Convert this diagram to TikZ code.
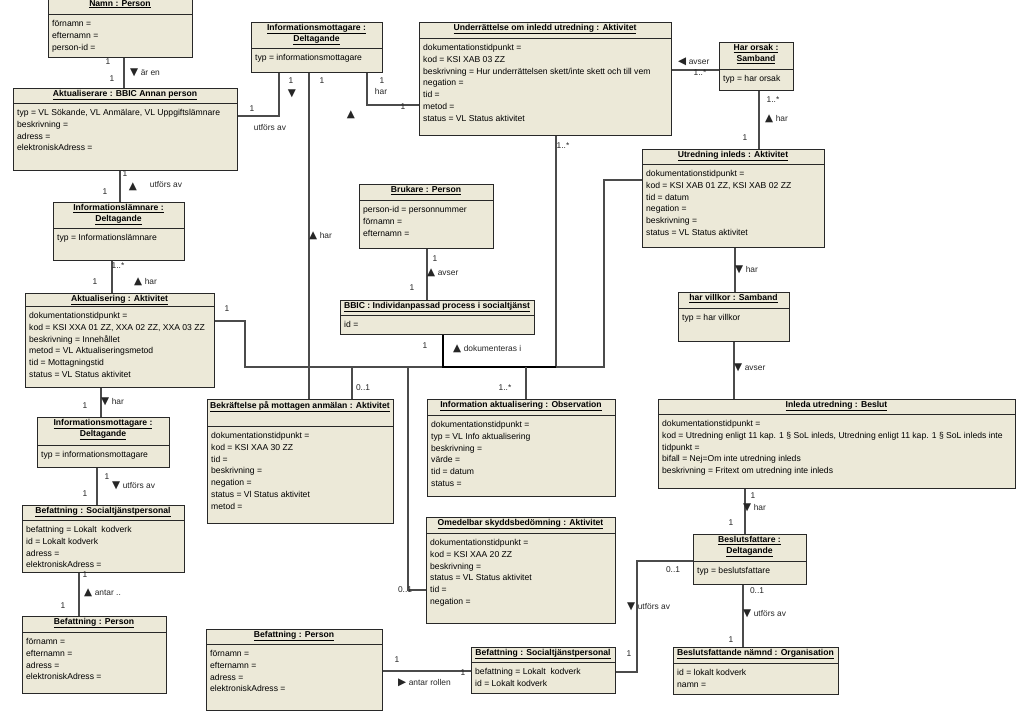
\documentclass[tikz,border=0pt]{standalone}
\usepackage{fontspec}
\setmainfont{Liberation Sans}
\newfontfamily\symf{DejaVu Sans}
\definecolor{boxfill}{RGB}{236,233,216}
\definecolor{boxline}{RGB}{40,40,40}
\definecolor{connline}{RGB}{75,75,75}
\pgfdeclarelayer{bg}
\pgfsetlayers{bg,main}
\tikzset{
 objbox/.style={draw=boxline, line width=1.1pt, fill=boxfill, inner sep=0pt},
 hdrline/.style={draw=boxline, line width=0.9pt},
 titletext/.style={font=\fontsize{8.6}{11}\selectfont\bfseries, align=center, inner sep=0pt},
 attrtext/.style={font=\fontsize{8.6}{11.8}\selectfont, align=left, inner sep=0pt},
 conn/.style={draw=connline, line width=1.1pt},
 thickconn/.style={draw=black, line width=2pt},
 lbltext/.style={font=\fontsize{8.4}{10}\selectfont, inner sep=0pt, text=black!85},
}
\newcounter{lblc}
\newcommand{\umlobj}[8]{%
 \node[objbox, anchor=north west, minimum width={#4-#2}, minimum height={#5-#3}] (#1) at (#2,#3) {};
 \draw[hdrline] (#2,#6) -- (#4,#6);
 \node[titletext, anchor=north] (#1t) at ({(#2+#4)/2},#3+2) {#7};
 \node[attrtext, anchor=north west] (#1a) at (#2+4,#6+6) {#8};
}
\newcommand{\lbl}[3]{\stepcounter{lblc}\node[lbltext] (lbl\arabic{lblc}) at (#1,#2) {#3};}
\newcommand{\albl}[4]{\stepcounter{lblc}\node[lbltext, anchor=west] (lbl\arabic{lblc}) at (#1,#2) {\raisebox{-0.6pt}{\symf\fontsize{10.5}{10}\selectfont #3}\hspace{2.5pt}#4};}
\newcommand{\tri}[1]{\raisebox{-0.6pt}{\symf\fontsize{10.5}{10}\selectfont #1}}
\newcommand{\ul}[1]{\underline{#1}}
\begin{document}
\begin{tikzpicture}[x=1pt,y=-1pt]
\useasboundingbox (0,0) rectangle (1024,716);
\clip (0,0) rectangle (1024,716);
\begin{pgfonlayer}{bg}
\fill[white] (0,0) rectangle (1024,716);
\end{pgfonlayer}

% ---------- objects ----------
\umlobj{namn}{48}{-2}{192}{57}{14}{\ul{Namn : Person}}{förnamn =\\efternamn =\\person-id =}
\umlobj{aktualiserare}{13}{88}{237}{170}{103}{\ul{Aktualiserare : BBIC Annan person}}{typ = VL Sökande, VL Anmälare, VL Uppgiftslämnare\\beskrivning =\\adress =\\elektroniskAdress =}
\umlobj{infomottA}{251}{22}{382}{72}{48}{\ul{Informationsmottagare :}\\\ul{Deltagande}}{typ = informationsmottagare}
\umlobj{underr}{419}{22}{671}{135}{38}{\ul{Underrättelse om inledd utredning : Aktivitet}}{dokumentationstidpunkt =\\kod = KSI XAB 03 ZZ\\beskrivning = Hur underrättelsen skett/inte skett och till vem\\negation =\\tid =\\metod =\\status = VL Status aktivitet}
\umlobj{harorsak}{719}{42}{793}{90}{69}{\ul{Har orsak :}\\\ul{Samband}}{typ = har orsak}
\umlobj{utrinl}{642}{149}{824}{247}{164}{\ul{Utredning inleds : Aktivitet}}{dokumentationstidpunkt =\\kod = KSI XAB 01 ZZ, KSI XAB 02 ZZ\\tid = datum\\negation =\\beskrivning =\\status = VL Status aktivitet}
\umlobj{infolamn}{53}{202}{184}{260}{228}{\ul{Informationslämnare :}\\\ul{Deltagande}}{typ = Informationslämnare}
\umlobj{aktualisering}{25}{293}{214}{387}{306}{\ul{Aktualisering : Aktivitet}}{dokumentationstidpunkt =\\kod = KSI XXA 01 ZZ, XXA 02 ZZ, XXA 03 ZZ\\beskrivning = Innehållet\\metod = VL Aktualiseringsmetod\\tid = Mottagningstid\\status = VL Status aktivitet}
\umlobj{brukare}{359}{184}{493}{248}{200}{\ul{Brukare : Person}}{person-id = personnummer\\förnamn =\\efternamn =}
\umlobj{bbic}{340}{300}{534}{334}{315}{\ul{BBIC : Individanpassad process i socialtjänst}}{id =}
\umlobj{bekr}{207}{399}{393}{523}{426}{\ul{Bekräftelse på mottagen anmälan : Aktivitet}}{dokumentationstidpunkt =\\kod = KSI XAA 30 ZZ\\tid =\\beskrivning =\\negation =\\status = Vl Status aktivitet\\metod =}
\umlobj{infoakt}{427}{399}{615}{496}{415}{\ul{Information aktualisering : Observation}}{dokumentationstidpunkt =\\typ = VL Info aktualisering\\beskrivning =\\värde =\\tid = datum\\status =}
\umlobj{omed}{426}{517}{615}{623}{533}{\ul{Omedelbar skyddsbedömning : Aktivitet}}{dokumentationstidpunkt =\\kod = KSI XAA 20 ZZ\\beskrivning =\\status = VL Status aktivitet\\tid =\\negation =}
\umlobj{befsocB}{471}{647}{615}{693}{662}{\ul{Befattning : Socialtjänstpersonal}}{befattning = Lokalt \ kodverk\\id = Lokalt kodverk}
\umlobj{befpersB}{206}{629}{382}{710}{644}{\ul{Befattning : Person}}{förnamn =\\efternamn =\\adress =\\elektroniskAdress =}
\umlobj{infomottB}{37}{417}{169}{467}{445}{\ul{Informationsmottagare :}\\\ul{Deltagande}}{typ = informationsmottagare}
\umlobj{befsocA}{22}{505}{184}{572}{520}{\ul{Befattning : Socialtjänstpersonal}}{befattning = Lokalt \ kodverk\\id = Lokalt kodverk\\adress =\\elektroniskAdress =}
\umlobj{befpersA}{22}{616}{166}{693}{632}{\ul{Befattning : Person}}{förnamn =\\efternamn =\\adress =\\elektroniskAdress =}
\umlobj{harvillkor}{678}{292}{789}{341}{308}{\ul{har villkor : Samband}}{typ = har villkor}
\umlobj{inleda}{658}{399}{1015}{488}{414}{\ul{Inleda utredning : Beslut}}{dokumentationstidpunkt =\\kod = Utredning enligt 11 kap. 1 § SoL inleds, Utredning enligt 11 kap. 1 § SoL inleds inte\\tidpunkt =\\bifall = Nej=Om inte utredning inleds\\beskrivning = Fritext om utredning inte inleds}
\umlobj{beslf}{693}{534}{806}{584}{561}{\ul{Beslutsfattare :}\\\ul{Deltagande}}{typ = beslutsfattare}
\umlobj{beslnamnd}{673}{647}{838}{694}{663}{\ul{Beslutsfattande nämnd : Organisation}}{id = lokalt kodverk\\namn =}

% ---------- connectors ----------
\begin{pgfonlayer}{bg}
\draw[conn] (124,0 |- namn.south) -- (124,0 |- aktualiserare.north);
\draw[conn] (aktualiserare.east |- 0,116) -- (279,116) -- (279,0 |- infomottA.south);
\draw[conn] (309,0 |- infomottA.south) -- (309,0 |- bekr.north);
\draw[conn] (367,0 |- infomottA.south) -- (367,105) -- (underr.west |- 0,105);
\draw[conn] (underr.east |- 0,70) -- (harorsak.west |- 0,70);
\draw[conn] (759,0 |- harorsak.south) -- (759,0 |- utrinl.north);
\draw[conn] (556,0 |- underr.south) -- (556,367);
\draw[conn] (utrinl.west |- 0,180) -- (604,180) -- (604,367) -- (245,367) -- (245,321) -- (aktualisering.east |- 0,321);
\draw[thickconn] (443,0 |- bbic.south) -- (443,367) -- (556,367);
\draw[conn] (352,367) -- (352,0 |- bekr.north);
\draw[conn] (408,367) -- (408,590) -- (omed.west |- 0,590);
\draw[conn] (526,367) -- (526,0 |- infoakt.north);
\draw[conn] (427,0 |- brukare.south) -- (427,0 |- bbic.north);
\draw[conn] (120,0 |- aktualiserare.south) -- (120,0 |- infolamn.north);
\draw[conn] (112,0 |- infolamn.south) -- (112,0 |- aktualisering.north);
\draw[conn] (101,0 |- aktualisering.south) -- (101,0 |- infomottB.north);
\draw[conn] (97,0 |- infomottB.south) -- (97,0 |- befsocA.north);
\draw[conn] (79,0 |- befsocA.south) -- (79,0 |- befpersA.north);
\draw[conn] (befpersB.east |- 0,671) -- (befsocB.west |- 0,671);
\draw[conn] (befsocB.east |- 0,672) -- (637,672) -- (637,561) -- (beslf.west |- 0,561);
\draw[conn] (735,0 |- utrinl.south) -- (735,0 |- harvillkor.north);
\draw[conn] (734,0 |- harvillkor.south) -- (734,0 |- inleda.north);
\draw[conn] (745,0 |- inleda.south) -- (745,0 |- beslf.north);
\draw[conn] (743,0 |- beslf.south) -- (743,0 |- beslnamnd.north);
\end{pgfonlayer}

% ---------- labels ----------
\lbl{108}{62}{1} \lbl{112}{79}{1} \albl{130}{73}{▼}{är en}
\lbl{252}{109}{1} \lbl{291}{81}{1} \lbl{292}{94}{\tri{▼}} \lbl{270}{127}{utförs av}
\lbl{322}{81}{1} \albl{309}{236}{▲}{har}
\lbl{382}{81}{1} \lbl{381}{91}{har} \lbl{403}{107}{1} \lbl{351}{115}{\tri{▲}}
\albl{678}{62}{◀}{avser} \lbl{700}{73}{1..*}
\lbl{773}{100}{1..*} \albl{765}{119}{▲}{har} \lbl{745}{138}{1}
\lbl{563}{146}{1..*}
\lbl{227}{309}{1}
\lbl{425}{346}{1} \albl{453}{349}{▲}{dokumenteras i}
\lbl{363}{388}{0..1} \lbl{505}{388}{1..*}
\lbl{405}{590}{0..1}
\lbl{435}{259}{1} \albl{427}{273}{▲}{avser} \lbl{412}{288}{1}
\lbl{125}{174}{1} \lbl{105}{192}{1} \lbl{133}{187}{\tri{▲}} \lbl{166}{184}{utförs av}
\lbl{118}{266}{1..*} \lbl{95}{282}{1} \albl{134}{282}{▲}{har}
\lbl{85}{406}{1} \albl{101}{402}{▼}{har}
\lbl{107}{477}{1} \albl{112}{486}{▼}{utförs av} \lbl{85}{494}{1}
\lbl{85}{575}{1} \albl{84}{593}{▲}{antar ..} \lbl{63}{606}{1}
\lbl{397}{660}{1} \lbl{463}{673}{1} \albl{398}{683}{▶}{antar rollen}
\lbl{629}{654}{1} \albl{627}{607}{▼}{utförs av} \lbl{673}{570}{0..1}
\albl{735}{270}{▼}{har} \albl{734}{368}{▼}{avser}
\lbl{753}{496}{1} \albl{743}{508}{▼}{har} \lbl{731}{523}{1}
\lbl{757}{591}{0..1} \albl{743}{614}{▼}{utförs av} \lbl{731}{640}{1}
\end{tikzpicture}
\end{document}
